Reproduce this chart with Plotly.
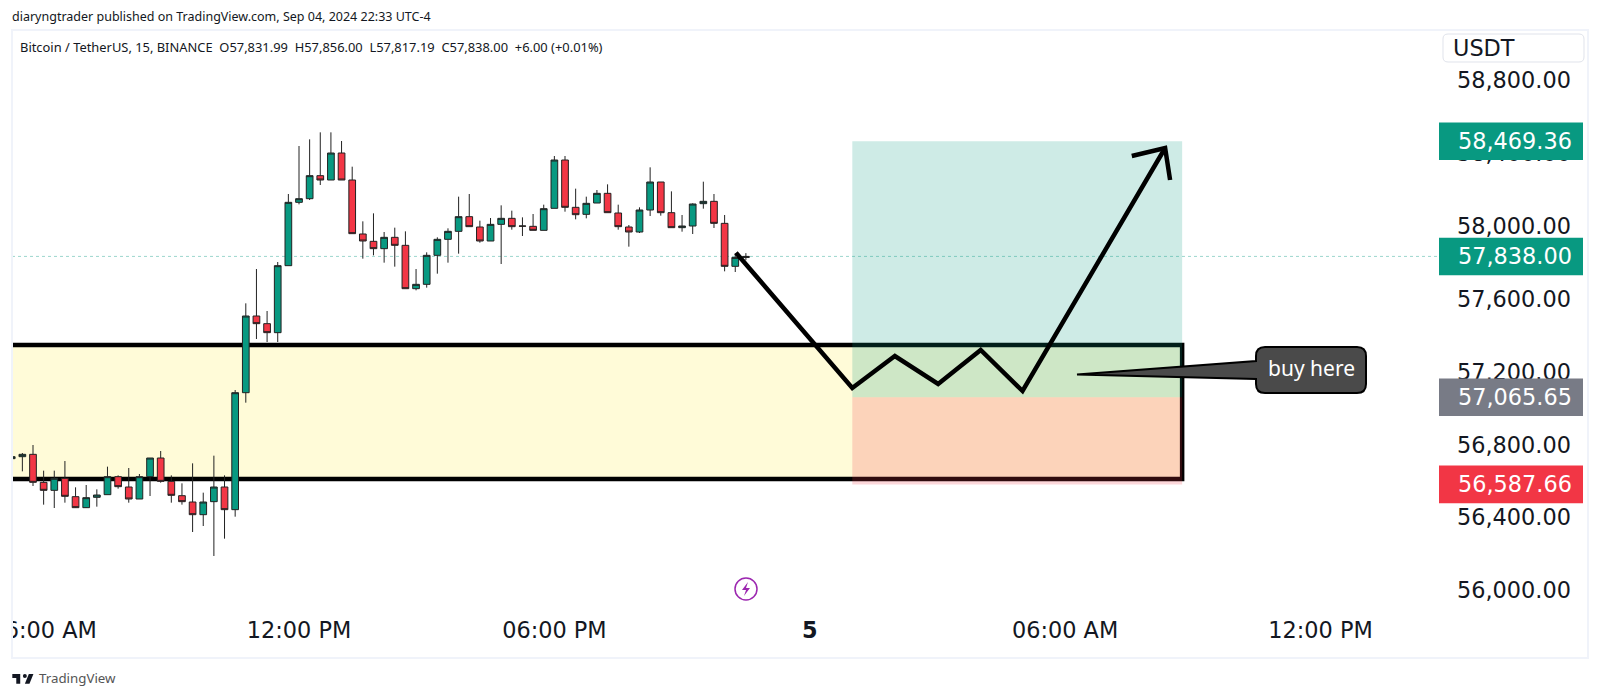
"""
BTC/USDT 15 minute chart with a long setup drawn over a demand zone
"""

import pandas as pd
import plotly.graph_objects as go

WIDTH = 1600
HEIGHT = 698
PLOT_LEFT, PLOT_RIGHT, PLOT_TOP, PLOT_BOTTOM = 12, 1439, 30, 610

GREEN = "#089981"
RED = "#F23645"
GRAY = "#787B86"
FONT = "DejaVu Sans"
SMALL_FONT = "Noto Sans"

START = "2024-09-04 05:15"

opens = [56728.8, 56739.7, 56752.5, 56599.0, 56555.1, 56620.9, 56520.4, 56460.0, 56516.7, 56531.3,
         56630.0, 56573.4, 56507.6, 56630.0, 56732.4, 56604.4, 56525.8, 56491.1, 56421.6, 56493.0,
         56573.4, 56449.1, 57090.7, 57511.2, 57469.2, 57419.8, 57787.3, 58134.6, 58154.7, 58280.9,
         58257.1, 58405.2, 58257.1, 57961.0, 57920.7, 57880.5, 57942.7, 57898.8, 57661.1, 57684.9,
         57843.9, 57931.7, 57975.6, 58056.0, 57999.3, 57922.5, 58013.9, 58046.9, 58004.8, 58003.0,
         57981.0, 58101.7, 58366.8, 58107.2, 58068.8, 58130.9, 58184.0, 58076.1, 57999.3, 57971.9,
         58092.6, 58246.1, 58077.9, 57995.7, 58004.8, 58127.3, 58140.1, 58019.4, 57783.6, 57831.99]
highs = [56739.7, 56759.8, 56803.7, 56663.0, 56663.0, 56715.9, 56571.5, 56584.3, 56560.6, 56684.9,
         56637.3, 56677.6, 56644.7, 56732.4, 56770.8, 56637.3, 56593.5, 56703.2, 56542.3, 56745.2,
         56637.3, 57105.4, 57580.7, 57768.9, 57538.6, 57807.4, 58180.3, 58443.6, 58480.1, 58518.5,
         58518.5, 58471.0, 58330.2, 58030.4, 58074.3, 57971.9, 57995.7, 57975.6, 57768.9, 57860.4,
         57942.7, 57992.0, 58165.7, 58180.3, 58034.1, 58048.7, 58118.2, 58088.9, 58052.3, 58070.6,
         58121.8, 58388.7, 58388.7, 58209.6, 58165.7, 58202.3, 58233.3, 58121.8, 58010.3, 58107.2,
         58326.6, 58246.1, 58194.9, 58065.2, 58129.1, 58247.9, 58180.3, 58065.2, 57854.9, 57856.0]
lows = [56728.8, 56659.3, 56578.9, 56476.5, 56458.2, 56487.4, 56458.2, 56458.2, 56465.5, 56531.3,
        56564.2, 56487.4, 56507.6, 56524.0, 56597.1, 56487.4, 56476.5, 56326.6, 56359.5, 56195.0,
        56290.0, 56410.6, 57035.9, 57385.1, 57368.6, 57368.6, 57787.3, 58123.7, 58147.4, 58229.7,
        58257.1, 58257.1, 57962.8, 57825.7, 57843.9, 57803.7, 57781.8, 57661.1, 57652.0, 57666.6,
        57743.4, 57803.7, 57853.1, 58001.2, 57913.4, 57922.5, 57796.4, 57984.7, 57950.0, 57981.0,
        57981.0, 58101.7, 58083.4, 58041.4, 58046.9, 58130.9, 58077.9, 57984.7, 57891.5, 57966.4,
        58059.6, 58061.5, 57995.7, 57973.7, 57960.9, 58099.9, 57993.9, 57756.2, 57752.5, 57817.19]
closes = [56739.7, 56752.5, 56599.0, 56555.1, 56620.9, 56522.2, 56460.0, 56514.9, 56529.5, 56630.0,
          56575.2, 56507.6, 56630.0, 56732.4, 56604.4, 56527.7, 56493.0, 56421.6, 56491.1, 56573.4,
          56449.1, 57090.7, 57511.2, 57469.2, 57419.8, 57787.3, 58134.6, 58154.7, 58280.9, 58257.1,
          58405.2, 58257.1, 57962.8, 57922.5, 57880.5, 57942.7, 57898.8, 57661.1, 57684.9, 57843.9,
          57931.7, 57975.6, 58056.0, 58001.2, 57922.5, 58013.9, 58046.9, 58001.2, 58004.0, 57981.0,
          58099.9, 58366.8, 58107.2, 58066.9, 58129.1, 58184.0, 58077.9, 58001.2, 57971.9, 58092.6,
          58246.1, 58077.9, 57995.7, 58004.8, 58125.5, 58140.1, 58019.4, 57783.6, 57832.6, 57838.0]

# Long position drawing
position_start = "2024-09-05 01:00"
position_end = "2024-09-05 08:45"
target_price = 58469.36
last_price = 57838.00
entry_price = 57065.65
stop_price = 56587.66

# Demand zone
zone_start = "2024-09-03 12:00"
zone_top = 57352.2
zone_bottom = 56617.3

# Hand drawn path and its arrow head
path_times = ["2024-09-04 22:16", "2024-09-05 01:00", "2024-09-05 02:00", "2024-09-05 03:01",
              "2024-09-05 04:01", "2024-09-05 05:00", "2024-09-05 08:21"]
path_prices = [57858.4, 57116.4, 57291.9, 57138.3, 57324.8, 57099.9, 58432.6]
head_times = ["2024-09-05 07:34", "2024-09-05 08:21", "2024-09-05 08:28"]
head_prices = [58388.8, 58432.6, 58257.2]

price_ticks = [56000, 56400, 56800, 57200, 57600, 58000, 58400, 58800]
time_ticks = ["2024-09-04 06:00", "2024-09-04 12:00", "2024-09-04 18:00", "2024-09-05 00:00",
              "2024-09-05 06:00", "2024-09-05 12:00"]
time_labels = ["06:00 AM", "12:00 PM", "06:00 PM", "<b>5</b>", "06:00 AM", "12:00 PM"]

price_labels = [58469.36, 57838.00, 57065.65, 56587.66]
price_label_colors = [GREEN, GREEN, GRAY, RED]

title_text = "diaryngtrader published on TradingView.com, Sep 04, 2024 22:33 UTC-4"
legend_text = "Bitcoin / TetherUS, 15, BINANCE  O57,831.99  H57,856.00  L57,817.19  C57,838.00  +6.00 (+0.01%)"


def px(x):
    return (x - PLOT_LEFT) / (PLOT_RIGHT - PLOT_LEFT)


def py(y):
    return (PLOT_BOTTOM - y) / (PLOT_BOTTOM - PLOT_TOP)


def polygon(points):
    """SVG path in paper units from page pixel points"""
    return "M" + "L".join(f"{px(x):.5f},{py(y):.5f}" for x, y in points) + "Z"


def rounded_box(x0, y0, x1, y1, r, tail=None):
    """Rounded box in page pixels, with an optional tail leaving the left side"""
    p = f"M{px(x0 + r):.5f},{py(y0):.5f}L{px(x1 - r):.5f},{py(y0):.5f}"
    p += f"Q{px(x1):.5f},{py(y0):.5f} {px(x1):.5f},{py(y0 + r):.5f}"
    p += f"L{px(x1):.5f},{py(y1 - r):.5f}Q{px(x1):.5f},{py(y1):.5f} {px(x1 - r):.5f},{py(y1):.5f}"
    p += f"L{px(x0 + r):.5f},{py(y1):.5f}Q{px(x0):.5f},{py(y1):.5f} {px(x0):.5f},{py(y1 - r):.5f}"
    if tail:
        for x, y in tail:
            p += f"L{px(x):.5f},{py(y):.5f}"
    p += f"L{px(x0):.5f},{py(y0 + r):.5f}Q{px(x0):.5f},{py(y0):.5f} {px(x0 + r):.5f},{py(y0):.5f}Z"
    return p


def paper_shape(**kwargs):
    return dict(xref="paper", yref="paper", **kwargs)


def paper_text(text, x, y, size, color="#131722", family=SMALL_FONT, anchor="left"):
    return dict(text=text, x=px(x), y=py(y), xref="paper", yref="paper", xanchor=anchor,
                yanchor="middle", showarrow=False, font=dict(size=size, color=color, family=family))


times = pd.date_range(START, periods=len(opens), freq="15min")

fig = go.Figure()

fig.add_trace(go.Candlestick(
    x=times,
    open=opens,
    high=highs,
    low=lows,
    close=closes,
    increasing=dict(fillcolor=GREEN, line=dict(color="#222222", width=1)),
    decreasing=dict(fillcolor=RED, line=dict(color="#222222", width=1)),
    whiskerwidth=0,
    showlegend=False
))

fig.add_trace(go.Scatter(
    x=path_times, y=path_prices, mode="lines", showlegend=False,
    line=dict(color="black", width=4.5, shape="linear")
))
fig.add_trace(go.Scatter(
    x=head_times, y=head_prices, mode="lines", showlegend=False,
    line=dict(color="black", width=4.5)
))

shapes = [
    # Demand zone, then the position boxes over it
    dict(type="rect", xref="x", yref="y", x0=zone_start, x1=position_end, y0=zone_bottom, y1=zone_top,
         fillcolor="rgba(255,235,59,0.2)", line=dict(color="black", width=4.5), layer="below"),
    dict(type="rect", xref="x", yref="y", x0=position_start, x1=position_end, y0=entry_price, y1=target_price,
         fillcolor="rgba(8,153,129,0.2)", line=dict(width=0), layer="below"),
    dict(type="rect", xref="x", yref="y", x0=position_start, x1=position_end, y0=stop_price, y1=entry_price,
         fillcolor="rgba(242,54,69,0.2)", line=dict(width=0), layer="below"),
    dict(type="line", xref="paper", yref="y", x0=0, x1=1, y0=last_price, y1=last_price,
         line=dict(color="rgba(8,153,129,0.4)", width=1, dash="dot"), layer="below"),
]

# Price tags sit on top of the tick labels
for price, color in zip(price_labels, price_label_colors):
    shapes.append(dict(type="rect", xref="paper", yref="y", x0=px(1439), x1=px(1583),
                       y0=price - 103, y1=price + 103, fillcolor=color, line=dict(width=0)))

# Cuts the first time label at the chart edge
shapes.append(paper_shape(type="rect", x0=px(-20), x1=px(12), y0=py(612), y1=py(656),
                          fillcolor="white", line=dict(width=0)))

# Frame of the chart and the currency button
shapes.append(paper_shape(type="rect", x0=px(12), x1=px(1588), y0=py(658), y1=py(30),
                          line=dict(color="#F0F3FA", width=2)))
shapes.append(dict(type="path", xref="paper", yref="paper", path=rounded_box(1443, 34, 1584, 62, 5),
                   line=dict(color="#E0E3EB", width=1), fillcolor="white"))

# Callout
shapes.append(dict(type="path", xref="paper", yref="paper",
                   path=rounded_box(1256, 347, 1366, 393, 9, tail=[(1256, 379), (1077, 374.5), (1256, 361)]),
                   fillcolor="#4A4A4A", line=dict(color="black", width=2)))

# Snapshot icon
shapes.append(paper_shape(type="circle", x0=px(735), x1=px(757), y0=py(600), y1=py(578),
                          line=dict(color="#9C27B0", width=1.5)))
shapes.append(dict(type="path", xref="paper", yref="paper", fillcolor="#9C27B0", line=dict(width=0),
                   path=polygon([(748, 582), (742, 590), (746, 590), (744, 596), (750, 588), (746, 588)])))

# TradingView logo
LOGO_X, LOGO_Y, LOGO_S = 11, 674, 0.66
logo_parts = [
    [(2, 6), (14, 6), (14, 21), (8, 21), (8, 12), (2, 12)],
    [(27, 6), (34, 6), (28, 21), (21, 21)],
]
for part in logo_parts:
    shapes.append(dict(type="path", xref="paper", yref="paper", fillcolor="#131722", line=dict(width=0),
                       path=polygon([(LOGO_X + a * LOGO_S, LOGO_Y - 4 + b * LOGO_S) for a, b in part])))
shapes.append(paper_shape(type="circle", x0=px(LOGO_X + 18 * LOGO_S), x1=px(LOGO_X + 24 * LOGO_S),
                          y0=py(LOGO_Y - 4 + 12 * LOGO_S), y1=py(LOGO_Y - 4 + 6 * LOGO_S),
                          fillcolor="#131722", line=dict(width=0)))

annotations = [
    paper_text(title_text, 10, 16.5, 12.5),
    paper_text(legend_text, 18, 47, 12.9),
    paper_text("USDT", 1451, 48, 22.4, family=FONT),
    paper_text("buy here", 1311, 368.5, 21, color="white", anchor="center"),
    paper_text("TradingView", 37, 678, 13.3, color="#555555"),
]
for price in price_labels:
    annotations.append(dict(text=f"{price:,.2f}", x=px(1456), y=price, xref="paper", yref="y",
                            xanchor="left", yanchor="middle", showarrow=False,
                            font=dict(size=22.4, color="white", family=FONT)))

fig.update_layout(
    width=WIDTH,
    height=HEIGHT,
    margin=dict(l=PLOT_LEFT, r=WIDTH - PLOT_RIGHT, t=PLOT_TOP, b=HEIGHT - PLOT_BOTTOM, pad=0, autoexpand=False),
    paper_bgcolor="white",
    plot_bgcolor="white",
    showlegend=False,
    boxgap=0.1,
    shapes=shapes,
    annotations=annotations
)

fig.update_xaxes(
    type="date",
    range=["2024-09-04 05:15:24", "2024-09-05 14:47:06"],
    rangeslider=dict(visible=False),
    tickmode="array",
    tickvals=time_ticks,
    ticktext=time_labels,
    tickangle=0,
    ticks="",
    ticklabelstandoff=5,
    ticklabeloverflow="allow",
    showgrid=False,
    zeroline=False,
    showline=False,
    tickfont=dict(family=FONT, size=22.4, color="#131722")
)

fig.update_yaxes(
    side="right",
    range=[55898.8, 59079.8],
    tickmode="array",
    tickvals=price_ticks,
    tickformat=",.2f",
    ticks="",
    ticklabelstandoff=17,
    ticklabelshift=-1,
    showgrid=False,
    zeroline=False,
    showline=False,
    tickfont=dict(family=FONT, size=22.4, color="#131722")
)

fig.write_html("out.html", config=dict(displayModeBar=False),
               post_script="document.body.style.margin='0';document.body.style.overflow='hidden';")
